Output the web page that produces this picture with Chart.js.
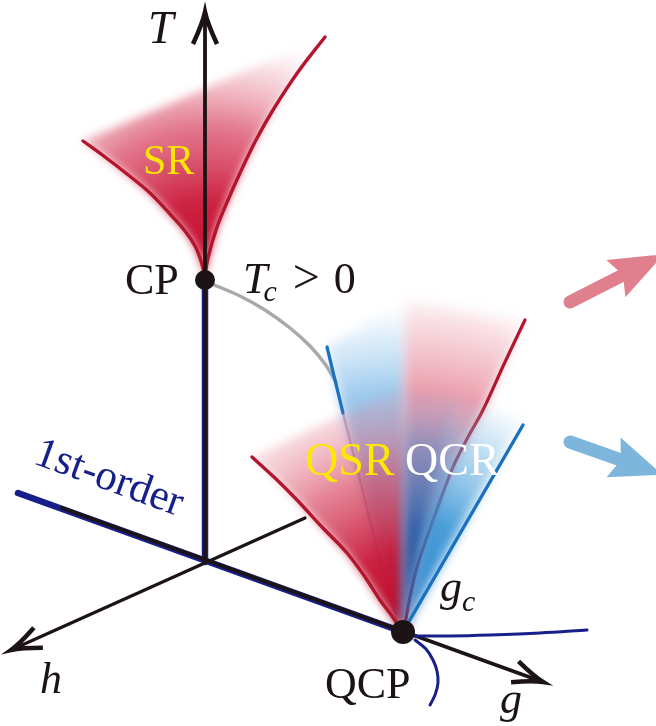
<!DOCTYPE html>
<html>
<head>
<meta charset="utf-8">
<script src="https://cdn.jsdelivr.net/npm/chart.js@4/dist/chart.umd.min.js"></script>
<style>
  html, body { margin: 0; padding: 0; background: #ffffff; }
  #wrap { width: 656px; height: 726px; }
</style>
</head>
<body>
<div id="wrap"><canvas id="diagram" width="656" height="726"></canvas></div>
<script>
// Phase diagram in the (h, g, T) space, drawn in diagram units
// (x grows to the right, y grows downwards, 0..656 by 0..726).

// Axes and the first-order line
const tAxis = [{x:205,y:562},{x:205,y:12}];
const hAxis = [{x:305,y:518},{x:11,y:650}];
const gAxis = [{x:62,y:508},{x:543,y:682}];
const firstOrderLine = [{x:18,y:493},{x:403,y:632}];
const criticalLine = [{x:205,y:562},{x:205,y:282}];

// Critical points
const cpPoint = [{x:205,y:280}];
const qcpPoint = [{x:403,y:632}];

// Line of finite-temperature critical points, CP -> QCP
const tcCurve = [{x:212,y:284},{x:240,y:296},{x:265,y:310},{x:290,y:328},{x:310,y:346},{x:325,y:364},{x:336,y:382}];

// Crossover boundaries of the classical scaling region
const srLeft = [{x:83,y:141},{x:105,y:157},{x:127,y:174},{x:150,y:193},{x:170,y:214},{x:185,y:231},{x:195,y:246},{x:201,y:261},{x:205,y:277}];
const srRight = [{x:205,y:277},{x:208,y:258},{x:217,y:227},{x:228,y:200},{x:240,y:173},{x:256,y:140},{x:273,y:110},{x:298,y:72},{x:325,y:37}];

// Crossover boundaries around the quantum critical point
const qsrCurve = [{x:252,y:457},{x:275,y:478},{x:297,y:500},{x:322,y:527},{x:347,y:553},{x:365,y:577},{x:380,y:600},{x:392,y:616},{x:401,y:630}];
const qcrLine = [{x:523,y:425},{x:404,y:630}];
const backRedCurve = [{x:525,y:320},{x:505,y:362},{x:483,y:410},{x:468,y:437},{x:453,y:467},{x:435,y:515},{x:417,y:567},{x:409,y:602},{x:404,y:630}];
const backBlueTop = [{x:327,y:347},{x:343,y:413}];
const backBlueLow = [{x:343,y:413},{x:360,y:480},{x:380,y:560},{x:397,y:620}];

// Low-field branches of the first-order transition at the QCP
const qcpRightBranch = [{x:415,y:636},{x:450,y:636},{x:490,y:635},{x:540,y:633},{x:587,y:630}];
const qcpLowerBranch = [{x:415,y:640},{x:426,y:649},{x:433,y:660},{x:437,y:671},{x:438,y:683},{x:435,y:695},{x:430,y:705}];

// Shaded regions (polygons)
const srRegion = [...srLeft, ...srRight];
const qsrRegion = [...qsrCurve, {x:403,y:632}, {x:404,y:386}];
const qcrDarkRegion = [{x:403,y:632},{x:404,y:386},{x:458,y:396}];
const qcrLightRegion = [{x:403,y:632},{x:452,y:395},{x:523,y:418},{x:408,y:622}];
const backBlueRegion = [{x:403,y:632},...backBlueLow.slice().reverse(),{x:327,y:347},{x:405,y:300}];
const backRedRegion = [{x:403,y:632},{x:405,y:296},...backRedCurve];

// Direction arrows on the right
const redArrow = [{x:570,y:302},{x:623,y:275}];
const blueArrow = [{x:570,y:442},{x:621,y:460}];

const RED = '#b3152c';
const BLUE = '#1c70c0';
const NAVY = '#17208a';
const INK = '#1c1414';

function line(data, color, width, extra) {
  return Object.assign({
    data, showLine: true, borderColor: color, borderWidth: width,
    pointRadius: 0, pointHoverRadius: 0, tension: 0.35, fill: false, clip: false,
    borderCapStyle: 'round', borderJoinStyle: 'round'
  }, extra || {});
}
function region(data, stops, radius, blur) {
  return { data, showLine: false, pointRadius: 0, pointHoverRadius: 0, clip: false,
           region: { stops, radius, blur } };
}

const datasets = [
  line(tcCurve, '#a9a9a9', 3.5),
  line(backBlueLow, 'rgba(120,60,130,0.45)', 2.5),
  region(backBlueRegion, [[0,'rgba(110,175,228,0.75)'],[0.72,'rgba(110,175,228,0.7)'],[0.9,'rgba(150,200,238,0.3)'],[1,'rgba(200,225,245,0)']], 330, 6),
  region(backRedRegion, [[0,'rgba(222,95,120,0.7)'],[0.7,'rgba(222,95,120,0.62)'],[0.9,'rgba(232,140,158,0.3)'],[1,'rgba(240,190,200,0)']], 345, 6),
  line(backBlueTop, BLUE, 3.2),
  line(backRedCurve, RED, 3.2),
  region(qsrRegion, [[0,'rgba(185,8,40,1)'],[0.3,'rgba(200,22,55,0.95)'],[0.6,'rgba(214,65,92,0.65)'],[0.85,'rgba(228,125,145,0.3)'],[1,'rgba(240,180,195,0)']], 260, 5),
  region(qcrDarkRegion, [[0,'rgba(22,70,150,1)'],[0.4,'rgba(32,92,170,0.92)'],[0.75,'rgba(70,135,200,0.5)'],[1,'rgba(150,190,230,0)']], 255, 6),
  region(qcrLightRegion, [[0,'rgba(35,125,200,1)'],[0.45,'rgba(50,145,212,0.88)'],[0.8,'rgba(110,180,228,0.4)'],[1,'rgba(170,210,240,0)']], 255, 6),
  region(srRegion, [[0,'rgba(192,8,42,1)'],[0.3,'rgba(202,22,55,0.95)'],[0.6,'rgba(214,62,92,0.7)'],[0.85,'rgba(230,130,150,0.3)'],[1,'rgba(245,200,210,0)']], 250, 5),
  line(qsrCurve, RED, 3.4),
  line(qcrLine, BLUE, 3.4),
  line(srLeft, RED, 3.4),
  line(srRight, RED, 3.4),
  line(firstOrderLine, NAVY, 6.5),
  line(criticalLine, NAVY, 6.5),
  line(tAxis, INK, 3.8, { arrow: { kind: 'open', len: 32, half: 12, width: 4.5 } }),
  line(gAxis, INK, 3.8, { arrow: { kind: 'open', len: 30, half: 11, width: 4.5 } }),
  line(hAxis, INK, 3.2, { arrow: { kind: 'open', len: 30, half: 11, width: 4.5 } }),
  line(qcpRightBranch, NAVY, 3),
  line(qcpLowerBranch, NAVY, 3),
  { data: cpPoint, showLine: false, pointRadius: 10, pointHoverRadius: 10, backgroundColor: INK, borderWidth: 0, clip: false },
  { data: qcpPoint, showLine: false, pointRadius: 12, pointHoverRadius: 12, backgroundColor: INK, borderWidth: 0, clip: false },
  line(redArrow, '#e0808e', 13, { arrow: { kind: 'solid', len: 46, half: 21 } }),
  line(blueArrow, '#7db5dc', 13, { arrow: { kind: 'solid', len: 44, half: 21 } })
];
datasets.forEach((d, i) => { d.order = datasets.length - i; });

// Soft radial-gradient fills for the shaded regions
const regionFill = {
  id: 'regionFill',
  afterDatasetDraw(chart, args) {
    const ds = chart.data.datasets[args.index];
    if (!ds.region) return;
    const pts = args.meta.data;
    if (!pts.length) return;
    let tip = pts[0];
    pts.forEach(p => { if (p.y > tip.y) tip = p; });
    const ctx = chart.ctx;
    ctx.save();
    ctx.filter = 'blur(' + ds.region.blur + 'px)';
    const g = ctx.createRadialGradient(tip.x, tip.y, 0, tip.x, tip.y, ds.region.radius);
    ds.region.stops.forEach(s => g.addColorStop(s[0], s[1]));
    ctx.fillStyle = g;
    ctx.beginPath();
    pts.forEach((p, i) => i ? ctx.lineTo(p.x, p.y) : ctx.moveTo(p.x, p.y));
    ctx.closePath();
    ctx.fill();
    ctx.restore();
  }
};

// Arrow heads at the last point of a dataset
const arrowHeads = {
  id: 'arrowHeads',
  afterDatasetDraw(chart, args) {
    const ds = chart.data.datasets[args.index];
    if (!ds.arrow) return;
    const pts = args.meta.data;
    const a = pts[pts.length - 2], b = pts[pts.length - 1];
    const dx = b.x - a.x, dy = b.y - a.y, L = Math.hypot(dx, dy);
    const ux = dx / L, uy = dy / L, nx = -uy, ny = ux;
    const ar = ds.arrow, ctx = chart.ctx;
    ctx.save();
    if (ar.kind === 'open') {
      ctx.strokeStyle = ds.borderColor;
      ctx.lineWidth = ar.width;
      ctx.lineCap = 'butt';
      ctx.lineJoin = 'miter';
      ctx.beginPath();
      ctx.moveTo(b.x - ux * ar.len + nx * ar.half, b.y - uy * ar.len + ny * ar.half);
      ctx.quadraticCurveTo(b.x - ux * ar.len * 0.35 + nx * ar.half * 0.2, b.y - uy * ar.len * 0.35 + ny * ar.half * 0.2, b.x, b.y);
      ctx.quadraticCurveTo(b.x - ux * ar.len * 0.35 - nx * ar.half * 0.2, b.y - uy * ar.len * 0.35 - ny * ar.half * 0.2, b.x - ux * ar.len - nx * ar.half, b.y - uy * ar.len - ny * ar.half);
      ctx.stroke();
    } else {
      ctx.fillStyle = ds.borderColor;
      ctx.beginPath();
      ctx.moveTo(b.x + ux * ar.len, b.y + uy * ar.len);
      ctx.lineTo(b.x - ux * 8 + nx * ar.half, b.y - uy * 8 + ny * ar.half);
      ctx.lineTo(b.x, b.y);
      ctx.lineTo(b.x - ux * 8 - nx * ar.half, b.y - uy * 8 - ny * ar.half);
      ctx.closePath();
      ctx.fill();
    }
    ctx.restore();
  }
};

// Text labels, placed in diagram units
const SERIF = '"Liberation Serif", "DejaVu Serif", serif';
const labels = [
  { parts: [['T', 'italic 46px', 0, 0]], x: 148, y: 43, color: INK },
  { parts: [['CP', '44px', 0, 0]], x: 125, y: 294, color: INK },
  { parts: [['T', 'italic 44px', 0, 0], ['c', 'italic 30px', -4, 8], ['>', '48px', 16, 0], ['0', '44px', 14, 0]], x: 243, y: 293, color: INK },
  { parts: [['SR', '42px', 0, 0]], x: 143, y: 174, color: '#ffe800' },
  { parts: [['QSR', '46px', 0, 0]], x: 305, y: 475, color: '#ffe800' },
  { parts: [['QCR', '46px', 0, 0]], x: 405, y: 475, color: '#ffffff' },
  { parts: [['g', 'italic 44px', 0, 0], ['c', 'italic 30px', 0, 10]], x: 440, y: 601, color: INK },
  { parts: [['QCP', '44px', 0, 0]], x: 325, y: 698, color: INK },
  { parts: [['h', 'italic 44px', 0, 0]], x: 40, y: 693, color: INK },
  { parts: [['g', 'italic 44px', 0, 0]], x: 500, y: 713, color: INK },
  { parts: [['1st-order', '43px', 0, 0]], x: 32, y: 463, rotate: 0.35, color: NAVY }
];
const textLayer = {
  id: 'textLayer',
  afterDatasetsDraw(chart) {
    const ctx = chart.ctx, xs = chart.scales.x, ys = chart.scales.y;
    labels.forEach(l => {
      ctx.save();
      ctx.translate(xs.getPixelForValue(l.x), ys.getPixelForValue(l.y));
      if (l.rotate) ctx.rotate(l.rotate);
      ctx.fillStyle = l.color;
      ctx.textBaseline = 'alphabetic';
      ctx.textAlign = 'left';
      let cx = 0;
      l.parts.forEach(p => {
        ctx.font = p[1] + ' ' + SERIF;
        cx += p[2];
        ctx.fillText(p[0], cx, p[3]);
        cx += ctx.measureText(p[0]).width;
      });
      ctx.restore();
    });
  }
};

new Chart(document.getElementById('diagram'), {
  type: 'scatter',
  data: { datasets },
  options: {
    responsive: false,
    animation: false,
    devicePixelRatio: 1,
    layout: { padding: 0, autoPadding: false },
    plugins: { legend: { display: false }, tooltip: { enabled: false } },
    events: [],
    scales: {
      x: { type: 'linear', min: 0, max: 656, display: false },
      y: { type: 'linear', min: 0, max: 726, reverse: true, display: false }
    }
  },
  plugins: [regionFill, arrowHeads, textLayer]
});
</script>
</body>
</html>
